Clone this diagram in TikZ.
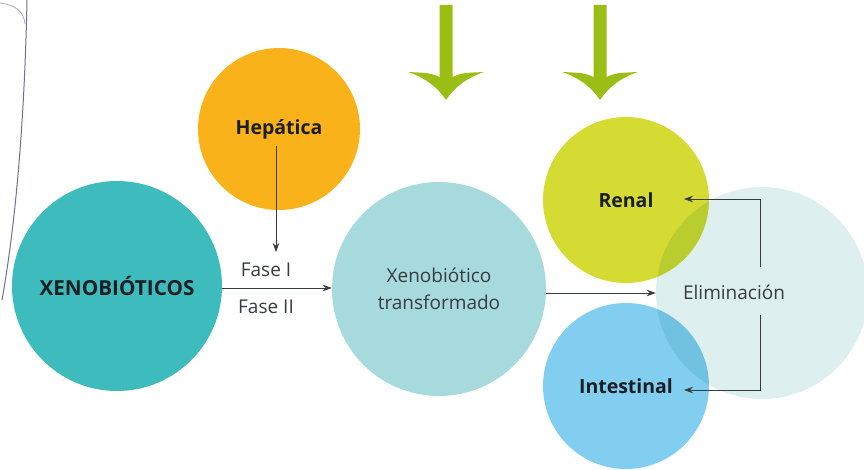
\documentclass[tikz,border=0pt]{standalone}
\usepackage{fontspec}
\setmainfont{Open Sans}
\usepackage{tikz}
\usetikzlibrary{positioning,arrows.meta}
\definecolor{xenoteal}{RGB}{62,188,189}
\definecolor{hepnaranja}{RGB}{249,178,26}
\definecolor{transfteal}{RGB}{166,218,220}
\definecolor{renalverde}{RGB}{213,219,50}
\definecolor{intazul}{RGB}{130,206,240}
\definecolor{elimclaro}{RGB}{222,239,240}
\definecolor{verdeflecha}{RGB}{155,190,20}
\definecolor{tinta}{RGB}{25,30,35}
\definecolor{gristexto}{RGB}{55,60,65}
\definecolor{curvagris}{RGB}{110,112,145}
\tikzset{arista/.style={line width=0.8pt, draw=gristexto, -{Stealth[length=9pt,width=6.5pt]}}}
\tikzset{burbuja/.style={circle, inner sep=0pt}}
\tikzset{etiqueta/.style={font=\bfseries\fontsize{19.5}{23}\selectfont, text=tinta}}
\tikzset{texto/.style={font=\fontsize{19}{27}\selectfont, text=gristexto, align=center}}

\begin{document}
\begin{tikzpicture}[x=1pt,y=-1pt]
    \useasboundingbox (0,0) rectangle (864,470);
    % hoja
    \draw[curvagris, line width=1pt] (27,0) .. controls (25,100) and (18,210) .. (2,300);
    \draw[curvagris!60, line width=0.8pt] (0,3) .. controls (16,5) and (24,12) .. (25,24);

    \node[burbuja, fill=xenoteal, minimum size=210pt, etiqueta, font=\bfseries\fontsize{20.7}{24}\selectfont] (xeno) at (117,286) {XENOBIÓTICOS};
    \node[burbuja, fill=hepnaranja, minimum size=162pt, etiqueta] (hepatica) at (279,129) {Hepática};
    \node[burbuja, fill=transfteal, minimum size=214pt, texto] (transf) at (439,289) {Xenobiótico\\transformado};
    \node[burbuja, fill=renalverde, minimum size=166pt, etiqueta] (renal) at (626,200) {Renal};
    \node[burbuja, fill=intazul, minimum size=166pt, etiqueta] (intestinal) at (626,386) {Intestinal};
    \begin{scope}[blend mode=multiply]
        \node[burbuja, fill=elimclaro, minimum size=212pt] (elim) at (762,293) {};
    \end{scope}
    \node[texto] (elimtxt) at (734,292) {Eliminación};

    \node[texto] (fase1) at (266,270) {Fase I};
    \node[texto] (fase2) at (266,307) {Fase II};

    \coordinate (hsalida) at (276,146);
    \coordinate (hentrada) at (276,252);
    \coordinate (elimarriba) at (760,267);
    \coordinate (elimabajo) at (760,315);
    \coordinate (renalpunta) at (684,199);
    \coordinate (intpunta) at (684,390);

    \draw[arista] (hsalida) -- (hentrada);
    \draw[arista] (xeno.east |- 0,288) -- (transf.west |- 0,288);
    \draw[arista] (transf.east |- elim.west) -- (elim.west);
    \draw[arista] (elimarriba) |- (renalpunta);
    \draw[arista] (elimabajo) |- (intpunta);

    % flechas verdes
    \foreach \cx in {446,600} {
        \fill[verdeflecha] (\cx-6.5,5) -- (\cx+6.5,5) -- (\cx+6.5,77)
            .. controls (\cx+16,73) .. (\cx+38,72)
            .. controls (\cx+20,78) and (\cx+8,88) .. (\cx,100)
            .. controls (\cx-8,88) and (\cx-20,78) .. (\cx-38,72)
            .. controls (\cx-16,73) .. (\cx-6.5,77) -- cycle;
    }
\end{tikzpicture}
\end{document}
